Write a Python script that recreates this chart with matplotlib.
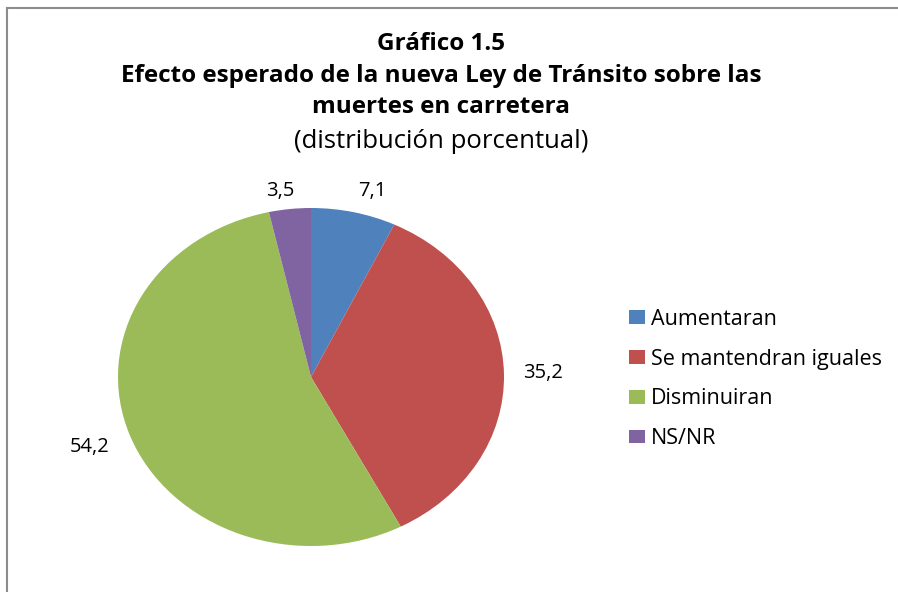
import matplotlib
matplotlib.use("Agg")
import matplotlib.pyplot as plt
from matplotlib.patches import Patch
from matplotlib.lines import Line2D

categories = ["Aumentaran", "Se mantendran iguales", "Disminuiran", "NS/NR"]
values = [7.1, 35.2, 54.2, 3.5]
colors = ["#4F81BD", "#C0504D", "#9BBB59", "#8064A2"]
title_lines = ["Gráfico 1.5", "Efecto esperado de la nueva Ley de Tránsito sobre las", "muertes en carretera"]
subtitle = "(distribución porcentual)"

plt.rcParams['font.family'] = ['Open Sans', 'DejaVu Sans']

W, H = 898, 592
fig = plt.figure(figsize=(W / 100, H / 100), dpi=100)

# frame lines (top and left, as in the cropped reference)
fig.add_artist(Line2D([7 / W, 7 / W], [0, 1 - 8 / H], color="#8c8c8c", lw=1.5, transform=fig.transFigure))
fig.add_artist(Line2D([7 / W, 1], [1 - 8 / H, 1 - 8 / H], color="#8c8c8c", lw=1.5, transform=fig.transFigure))

# pie axes (elliptical pie like Excel)
cx, cy = 311, 377
rx, ry = 193, 169
lim = 1.3
aw, ah = 2 * lim * rx, 2 * lim * ry
ax = fig.add_axes([(cx - aw / 2) / W, (H - cy - ah / 2) / H, aw / W, ah / H])
labels = [f"{v:.1f}".replace(".", ",") for v in values]
wedges, texts = ax.pie(values, colors=colors, startangle=90, counterclock=False,
                       labels=labels, labeldistance=1.2,
                       textprops=dict(fontsize=14.5, color="#000000"),
                       wedgeprops=dict(linewidth=0))
ax.set_aspect("auto")
ax.set_xlim(-lim, lim)
ax.set_ylim(-lim, lim)
for t in texts:
    t.set_ha("center")
    t.set_va("center")
# nudge small-slice labels like Excel's best-fit placement
x, y = texts[0].get_position()
texts[0].set_position((x + 0.05, y - 0.07))
x, y = texts[3].get_position()
texts[3].set_position((x - 0.03, y - 0.09))
x, y = texts[2].get_position()
texts[2].set_position((x - 0.02, y))

# titles
fig.text(441 / W, 1 - 44 / H, title_lines[0], ha="center", va="center", fontsize=17.5, fontweight="bold")
fig.text(441 / W, 1 - 76 / H, title_lines[1], ha="center", va="center", fontsize=17.5, fontweight="bold")
fig.text(441 / W, 1 - 107 / H, title_lines[2], ha="center", va="center", fontsize=17.5, fontweight="bold")
fig.text(441 / W, 1 - 141 / H, subtitle, ha="center", va="center", fontsize=18.5)

handles = [Patch(facecolor=c, edgecolor="none") for c in colors]
fig.legend(handles, categories, loc="center left", bbox_to_anchor=(629 / W, 1 - 379 / H),
           frameon=False, fontsize=15.5, handlelength=0.75, handleheight=0.6,
           handletextpad=0.25, labelspacing=0.87, borderaxespad=0, borderpad=0)

fig.savefig("out.png", dpi=100, facecolor="white")
